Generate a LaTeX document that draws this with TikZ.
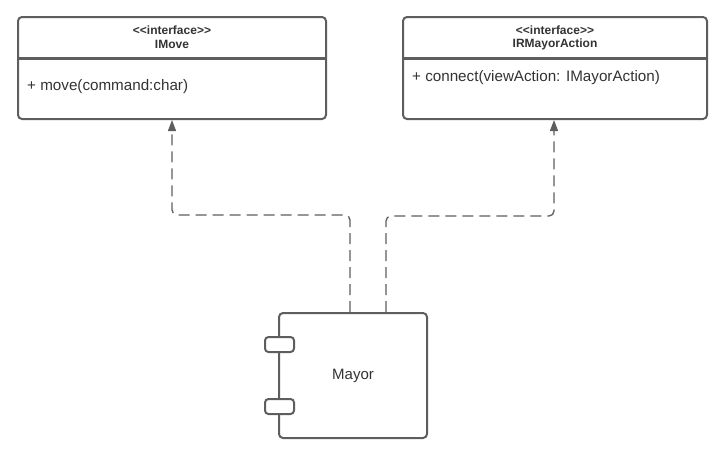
\documentclass[tikz,border=0pt]{standalone}
\usepackage{fontspec}
\setmainfont{Liberation Sans}
\usetikzlibrary{arrows.meta}
\definecolor{linec}{HTML}{5E5E5E}
\definecolor{textc}{HTML}{333333}
\newcommand{\stereoint}{<\kern0pt<interface>\kern0pt>}
\begin{document}
\begin{tikzpicture}[x=1pt,y=-1pt,
  umlbox/.style={draw=linec, line width=2pt, rounded corners=4pt, fill=white, inner sep=0pt},
  divider/.style={draw=linec, line width=3pt},
  stereo/.style={font=\bfseries\fontsize{12}{14}\selectfont, text=textc, inner sep=0pt},
  member/.style={font=\fontsize{15.2}{18}\selectfont, text=textc, inner sep=0pt, anchor=west},
  dep/.style={draw=linec, line width=1.3pt, dash pattern=on 11pt off 6pt, rounded corners=5pt,
    -{Triangle[length=11pt,width=8pt]}},
  port/.style={draw=linec, line width=2pt, rounded corners=3.5pt, fill=white, minimum width=29pt, minimum height=15pt, inner sep=0pt}
]
\useasboundingbox (0,0) rectangle (722,458);
% IMove
\node[umlbox, minimum width=308pt, minimum height=102pt] (imove) at (172,68) {};
\draw[divider] (imove.west |- 0,58) -- (imove.east |- 0,58);
\node[stereo] (imst) at (172,30) {\stereoint};
\node[stereo] (imname) at (172,44.5) {IMove};
\node[member] (immove) at (27,87) {+ move(command:char)};
% IRMayorAction
\node[umlbox, minimum width=304pt, minimum height=102pt] (irm) at (555,68) {};
\draw[divider] (irm.west |- 0,58) -- (irm.east |- 0,58);
\node[stereo] (irst) at (555,30) {\stereoint};
\node[stereo] (irname) at (555,44.5) {IRMayorAction};
\node[member] (irconn) at (412,78) {+ connect(viewAction: IMayorAction)};
% Mayor component
\node[umlbox, minimum width=148pt, minimum height=125pt, font=\fontsize{15}{18}\selectfont, text=textc] (mayor) at (353,375.5) {Mayor};
\node[port] (p1) at (279.5,344.5) {};
\node[port] (p2) at (279.5,406.5) {};
% dependencies
\coordinate (s1) at ([xshift=72pt]mayor.north west);
\coordinate (s2) at ([xshift=108pt]mayor.north west);
\draw[dep] (s1) -- (s1 |- 0,215) -| (imove.south);
\draw[dep] (s2) -- (s2 |- 0,216) -| ([xshift=-1pt]irm.south);
\end{tikzpicture}
\end{document}
